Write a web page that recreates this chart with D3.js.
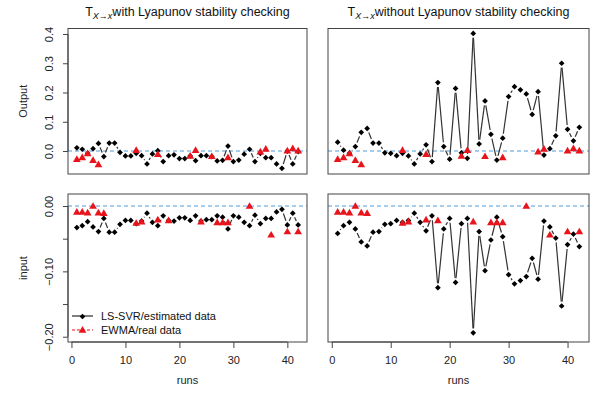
<!DOCTYPE html>
<html>
<head>
<meta charset="utf-8">
<script src="https://cdn.jsdelivr.net/npm/d3@7"></script>
<style>
  body { margin: 0; background: #fff; }
  svg { font-family: "Liberation Sans", Arial, sans-serif; }
</style>
</head>
<body>
<svg id="chart" width="593" height="398"></svg>
<script>
// runs 1..42
const runs = d3.range(1, 43);

// LS-SVR / estimated data (black diamonds)
const outWith = [0.011, 0.006, -0.008, 0.008, 0.026, -0.019, 0.027, 0.027, -0.005, -0.017,
  -0.017, -0.008, -0.016, -0.044, -0.010, 0.001, -0.036, -0.016, -0.013, -0.026,
  -0.026, -0.017, -0.033, -0.016, -0.016, -0.019, -0.034, -0.032, 0.017, -0.036,
  -0.031, -0.011, 0.006, -0.036, -0.008, -0.023, -0.023, -0.044, -0.059, 0.000,
  -0.044, -0.002];
const outWithout = [0.030, 0.003, -0.008, 0.015, 0.064, 0.077, 0.027, 0.027, -0.006, -0.008,
  -0.016, -0.008, -0.017, -0.044, -0.010, 0.021, -0.036, 0.234, 0.015, -0.028,
  0.214, -0.006, -0.025, 0.402, 0.024, 0.171, 0.057, -0.031, 0.044, 0.186,
  0.220, 0.209, 0.195, 0.125, 0.203, -0.014, 0.008, 0.052, 0.300, 0.074,
  0.035, 0.081];
const inWith = [-0.033, -0.030, -0.024, -0.032, -0.039, -0.019, -0.040, -0.040, -0.028, -0.022,
  -0.022, -0.027, -0.023, -0.011, -0.025, -0.030, -0.015, -0.022, -0.023, -0.018,
  -0.018, -0.022, -0.015, -0.023, -0.021, -0.021, -0.015, -0.017, -0.035, -0.015,
  -0.017, -0.025, -0.030, -0.014, -0.027, -0.019, -0.019, -0.009, -0.005, -0.029,
  -0.011, -0.029];
const inWithout = [-0.042, -0.030, -0.025, -0.035, -0.055, -0.061, -0.040, -0.039, -0.028, -0.027,
  -0.022, -0.025, -0.022, -0.011, -0.025, -0.038, -0.015, -0.125, -0.035, -0.019,
  -0.117, -0.027, -0.019, -0.194, -0.039, -0.099, -0.052, -0.017, -0.047, -0.105,
  -0.119, -0.114, -0.108, -0.080, -0.112, -0.023, -0.032, -0.049, -0.153, -0.059,
  -0.043, -0.062];

// EWMA / real data (red triangles), only available at some runs
const outRealRuns = [1, 2, 3, 4, 5, 12, 16, 22, 23, 26, 29, 35, 36, 40, 41, 42];
const outReal = [-0.028, -0.022, -0.008, -0.031, -0.046, 0.003, -0.011, -0.017, 0.003, -0.018,
  -0.022, -0.002, 0.007, 0.001, 0.009, 0.001];
const inRealRuns = [1, 2, 3, 4, 5, 6, 12, 13, 16, 18, 24, 27, 28, 29, 33, 37, 40, 42];
const inReal = [-0.009, -0.009, -0.010, 0.000, -0.010, -0.011, -0.026, -0.024, -0.021, -0.022,
  -0.024, -0.025, -0.025, -0.025, 0.000, -0.044, -0.039, -0.039];

const titles = ["with Lyapunov stability checking", "without Lyapunov stability checking"];
const xTicks = [0, 10, 20, 30, 40];
const outTicks = [0, 0.1, 0.2, 0.3, 0.4];
const inTicks = [0, -0.05, -0.10, -0.15, -0.20];

const svg = d3.select("#chart");

const cols = [[68, 307], [328, 589]];
const rows = [[28.5, 174], [194, 342]];

const yOut = d3.scaleLinear().domain([-0.0786, 0.4188]);
const yIn = d3.scaleLinear().domain([-0.2081, 0.0184]);

const blue = "#4f9ad8", red = "#e8141c";
const gap = 4.4;

// R type="b": segments between points with a gap around each point
function gappedLines(g, pts, color, dash) {
  for (let k = 1; k < pts.length; k++) {
    const a = pts[k - 1], b = pts[k];
    if (b.run - a.run !== 1) continue;
    const dx = b.x - a.x, dy = b.y - a.y, d = Math.hypot(dx, dy);
    if (d <= 2 * gap) continue;
    const ux = dx / d, uy = dy / d;
    g.append("line")
      .attr("x1", a.x + ux * gap).attr("y1", a.y + uy * gap)
      .attr("x2", b.x - ux * gap).attr("y2", b.y - uy * gap)
      .attr("stroke", color).attr("stroke-width", 1.2)
      .attr("stroke-dasharray", dash);
  }
}

const diamond = d3.symbol().type(d3.symbolDiamond2).size(21);
const triangle = d3.symbol().type(d3.symbolTriangle).size(26);

function panel(col, row, y, est, realRuns, real) {
  const x = d3.scaleLinear().domain([-0.64, 43.64]).range(cols[col]);
  y.range([rows[row][1], rows[row][0]]);
  const g = svg.append("g");

  // zero reference line
  g.append("line")
    .attr("x1", cols[col][0]).attr("x2", cols[col][1])
    .attr("y1", y(0)).attr("y2", y(0))
    .attr("stroke", blue).attr("stroke-width", 1).attr("stroke-dasharray", "4,3");

  const estPts = runs.map((r, i) => ({ run: r, x: x(r), y: y(est[i]) }));
  const realPts = realRuns.map((r, i) => ({ run: r, x: x(r), y: y(real[i]) }));

  gappedLines(g, estPts, "#333", null);
  g.selectAll(".est").data(estPts).join("path")
    .attr("d", diamond)
    .attr("transform", d => `translate(${d.x},${d.y})`)
    .attr("fill", "#000");

  gappedLines(g, realPts, red, "3,2");
  g.selectAll(".real").data(realPts).join("path")
    .attr("d", triangle)
    .attr("transform", d => `translate(${d.x},${d.y + 0.6})`)
    .attr("fill", red);

  g.append("rect")
    .attr("x", cols[col][0]).attr("y", rows[row][0])
    .attr("width", cols[col][1] - cols[col][0])
    .attr("height", rows[row][1] - rows[row][0])
    .attr("fill", "none").attr("stroke", "#444").attr("stroke-width", 1);

  if (row === 1) {
    const ax = g.append("g").attr("transform", `translate(0,${rows[row][1]})`)
      .call(d3.axisBottom(x).tickValues(xTicks).tickSize(6).tickPadding(8).tickFormat(d3.format("d")));
    ax.select(".domain").attr("d", `M${x(0)},0H${x(40)}`).attr("stroke", "#444");
    ax.selectAll(".tick line").attr("stroke", "#444");
    ax.selectAll("text").attr("font-size", 11).attr("fill", "#222")
      .attr("font-family", "Liberation Sans, Arial, sans-serif");
    g.append("text")
      .attr("x", (cols[col][0] + cols[col][1]) / 2).attr("y", 384)
      .attr("text-anchor", "middle").attr("font-size", 11).attr("fill", "#222")
      .text("runs");
  } else {
    const t = g.append("text")
      .attr("x", (cols[col][0] + cols[col][1]) / 2).attr("y", 16)
      .attr("text-anchor", "middle").attr("font-size", 12.5).attr("fill", "#111");
    t.append("tspan").text("T");
    t.append("tspan").attr("font-size", 9).attr("font-style", "italic").attr("dy", 3)
      .text("X\u2192x");
    t.append("tspan").attr("dy", -3).text(titles[col]);
  }

  if (col === 0) {
    const ticks = row === 0 ? outTicks : inTicks;
    const fmt = row === 0 ? d3.format(".1f") : (v => Math.abs(v * 100) % 10 < 1e-6 ? d3.format(".2f")(v) : "");
    const ay = g.append("g").attr("transform", `translate(${cols[col][0]},0)`)
      .call(d3.axisLeft(y).tickValues(ticks).tickSize(5).tickFormat(fmt));
    ay.select(".domain").attr("d", `M0,${y(d3.max(ticks))}V${y(d3.min(ticks))}`).attr("stroke", "#444");
    ay.selectAll(".tick line").attr("stroke", "#444");
    ay.selectAll("text")
      .attr("x", 0).attr("y", -15).attr("dy", null)
      .attr("transform", "rotate(-90)")
      .attr("text-anchor", "middle").attr("font-size", 11).attr("fill", "#222")
      .attr("font-family", "Liberation Sans, Arial, sans-serif");
    const mid = (rows[row][0] + rows[row][1]) / 2;
    g.append("text")
      .attr("transform", `translate(27,${mid}) rotate(-90)`)
      .attr("text-anchor", "middle").attr("font-size", 11).attr("fill", "#222")
      .text(row === 0 ? "Output" : "input");
  }
  return g;
}

panel(0, 0, yOut.copy(), outWith, outRealRuns, outReal);
panel(1, 0, yOut.copy(), outWithout, outRealRuns, outReal);
const bl = panel(0, 1, yIn.copy(), inWith, inRealRuns, inReal);
panel(1, 1, yIn.copy(), inWithout, inRealRuns, inReal);

// legend in the bottom-left panel
const legend = bl.append("g").attr("font-size", 11).attr("fill", "#111");
const legendItems = [
  { label: "LS-SVR/estimated data", color: "#000", dash: null, sym: diamond, y: 316 },
  { label: "EWMA/real data", color: red, dash: "3,2", sym: triangle, y: 330 }
];
legendItems.forEach(it => {
  legend.append("line").attr("x1", 72).attr("x2", 93).attr("y1", it.y).attr("y2", it.y)
    .attr("stroke", it.color).attr("stroke-dasharray", it.dash);
  legend.append("path").attr("d", it.sym).attr("transform", `translate(82.5,${it.y + 0.5})`)
    .attr("fill", it.color);
  legend.append("text").attr("x", 101).attr("y", it.y + 4).text(it.label);
});
</script>
</body>
</html>
